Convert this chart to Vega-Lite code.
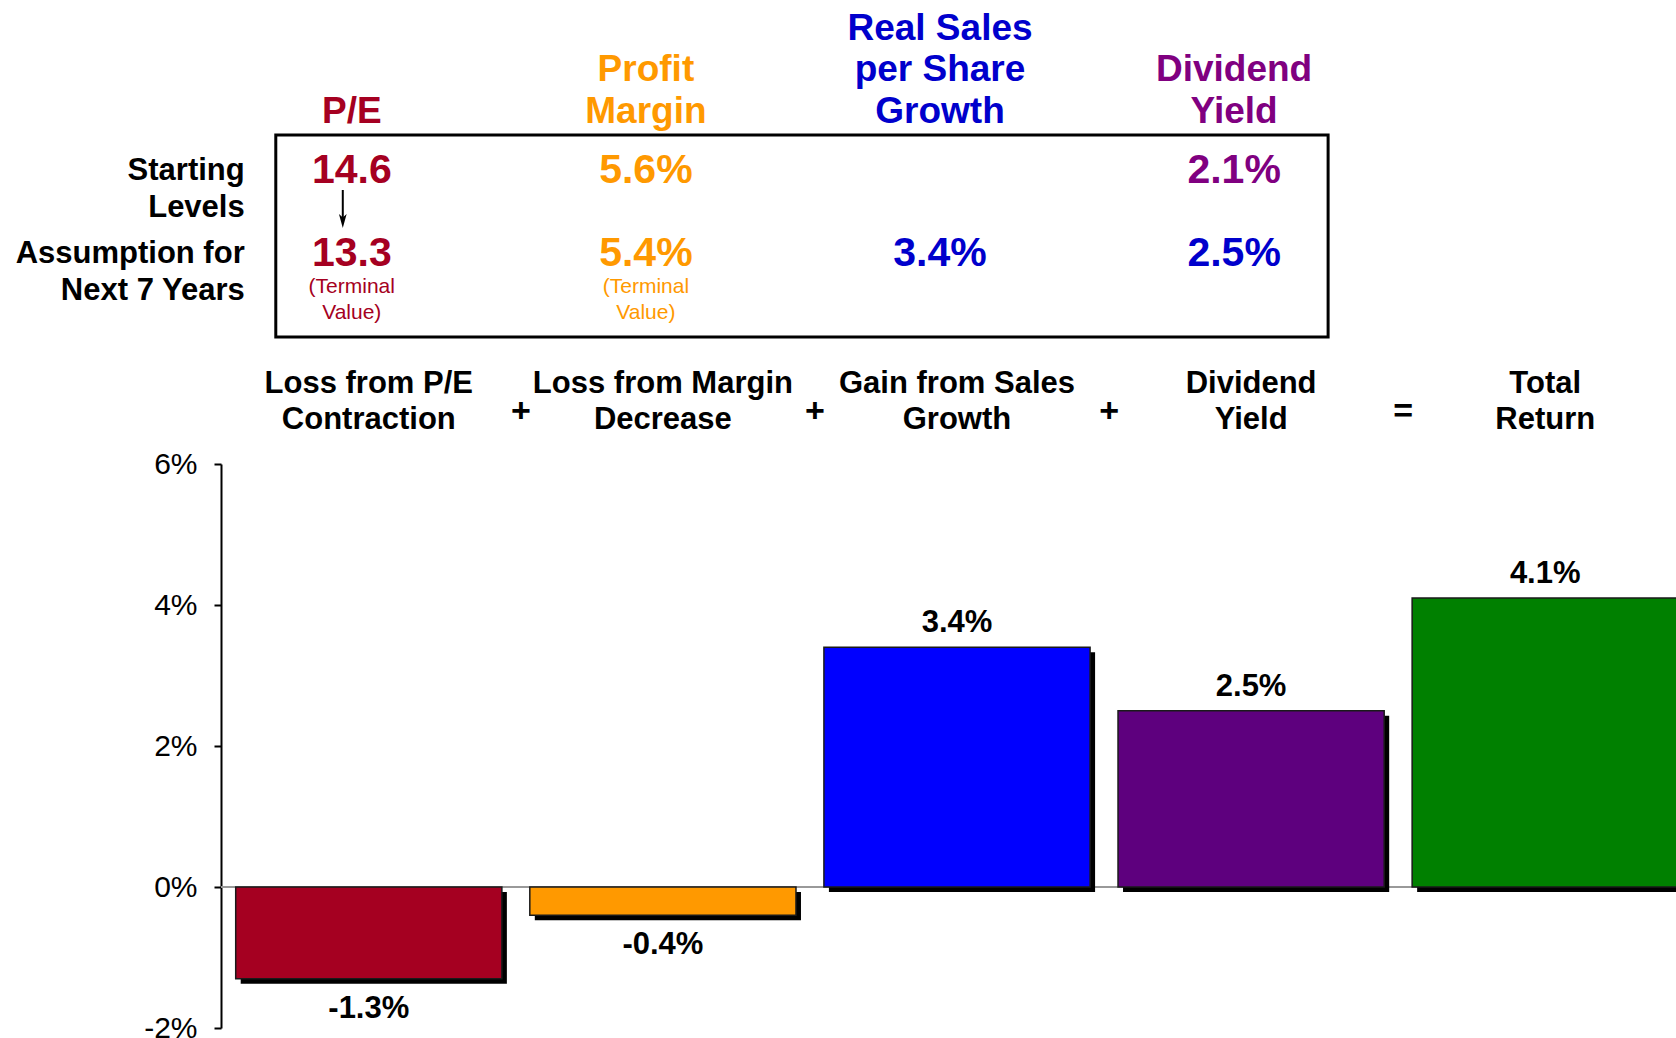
{
  "$schema": "https://vega.github.io/schema/vega-lite/v6.json",
  "autosize": {"type": "none"},
  "width": 1455,
  "height": 564,
  "padding": {"left": 221, "top": 464, "right": 0, "bottom": 10},
  "background": "white",
  "config": {"view": {"stroke": null}, "font": "Liberation Sans", "text": {"font": "Liberation Sans", "lineBreak": "\n"}},
  "datasets": {
    "bars": [
      {"cat": "P/E", "head": "Loss from P/E\nContraction", "value": -1.3, "lab": "-1.3%"},
      {"cat": "Profit Margin", "head": "Loss from Margin\nDecrease", "value": -0.4, "lab": "-0.4%"},
      {"cat": "Real Sales per Share Growth", "head": "Gain from Sales\nGrowth", "value": 3.4, "lab": "3.4%"},
      {"cat": "Dividend Yield", "head": "Dividend\nYield", "value": 2.5, "lab": "2.5%"},
      {"cat": "Total Return", "head": "Total\nReturn", "value": 4.1, "lab": "4.1%"}
    ],
    "cols": [
      {"cat": "P/E", "text": "P/E", "lines": 1},
      {"cat": "Profit Margin", "text": "Profit\nMargin", "lines": 2},
      {"cat": "Real Sales per Share Growth", "text": "Real Sales\nper Share\nGrowth", "lines": 3},
      {"cat": "Dividend Yield", "text": "Dividend\nYield", "lines": 2}
    ],
    "levels": [
      {"cat": "P/E", "trow": "start", "text": "14.6"},
      {"cat": "P/E", "trow": "assume", "text": "13.3"},
      {"cat": "Profit Margin", "trow": "start", "text": "5.6%"},
      {"cat": "Profit Margin", "trow": "assume", "text": "5.4%"},
      {"cat": "Real Sales per Share Growth", "trow": "assume", "text": "3.4%"},
      {"cat": "Dividend Yield", "trow": "start", "text": "2.1%"},
      {"cat": "Dividend Yield", "trow": "assume", "text": "2.5%"}
    ],
    "notes": [
      {"cat": "P/E", "trow": "assume", "text": "(Terminal\nValue)"},
      {"cat": "Profit Margin", "trow": "assume", "text": "(Terminal\nValue)"}
    ],
    "rowlabels": [
      {"trow": "start", "text": "Starting\nLevels"},
      {"trow": "assume", "text": "Assumption for\nNext 7 Years"}
    ],
    "ops": [
      {"cat": "P/E", "op": "+"},
      {"cat": "Profit Margin", "op": "+"},
      {"cat": "Real Sales per Share Growth", "op": "+"},
      {"cat": "Dividend Yield", "op": "="}
    ],
    "arrow": [{"cat": "P/E", "from": "start", "to": "assume"}],
    "box": [{"first": "P/E", "last": "Dividend Yield", "top": "start", "bottom": "assume"}]
  },
  "resolve": {"scale": {"y": "independent", "color": "independent"}},
  "layer": [
    {
      "data": {"name": "bars"},
      "layer": [
        {
          "mark": {"type": "rule", "color": "#999999", "strokeWidth": 2},
          "encoding": {
            "y": {"datum": 0, "type": "quantitative", "scale": {"domain": [-2, 6], "nice": false, "zero": false}}
          }
        },
        {
          "mark": {"type": "bar", "color": "black", "xOffset": 5, "x2Offset": 5, "yOffset": 5, "y2Offset": 5},
          "encoding": {
            "x": {"field": "cat", "type": "nominal", "scale": {"domain": ["P/E", "Profit Margin", "Real Sales per Share Growth", "Dividend Yield", "Total Return"], "range": [0, 1472], "paddingInner": 0.095, "paddingOuter": 0.05}, "axis": null},
            "y": {"field": "value", "type": "quantitative", "scale": {"domain": [-2, 6], "nice": false, "zero": false}}
          }
        },
        {
          "mark": {"type": "bar", "stroke": "#1a1a1a", "strokeWidth": 1.5},
          "encoding": {
            "x": {"field": "cat", "type": "nominal", "scale": {"domain": ["P/E", "Profit Margin", "Real Sales per Share Growth", "Dividend Yield", "Total Return"], "range": [0, 1472], "paddingInner": 0.095, "paddingOuter": 0.05}, "axis": null},
            "y": {"field": "value", "type": "quantitative", "scale": {"domain": [-2, 6], "nice": false, "zero": false},
              "axis": {"values": [-2, 0, 2, 4, 6], "labelExpr": "datum.value + '%'", "title": null, "grid": false, "domainColor": "black", "domainWidth": 2, "tickColor": "black", "tickSize": 7, "tickWidth": 2, "labelFont": "Liberation Sans", "labelFontSize": 30, "labelColor": "black", "labelPadding": 17}},
            "color": {"field": "cat", "type": "nominal", "scale": {"domain": ["P/E", "Profit Margin", "Real Sales per Share Growth", "Dividend Yield", "Total Return"], "range": ["#A50021", "#FF9900", "#0000FF", "#5E007E", "#008000"]}, "legend": null}
          }
        },
        {
          "transform": [{"filter": "datum.value >= 0"}],
          "mark": {"type": "text", "fontSize": 31, "fontWeight": "bold", "color": "black", "baseline": "alphabetic", "dy": -15},
          "encoding": {
            "x": {"field": "cat", "type": "nominal", "scale": {"domain": ["P/E", "Profit Margin", "Real Sales per Share Growth", "Dividend Yield", "Total Return"], "range": [0, 1472], "paddingInner": 0.095, "paddingOuter": 0.05}, "axis": null},
            "y": {"field": "value", "type": "quantitative", "scale": {"domain": [-2, 6], "nice": false, "zero": false}},
            "text": {"field": "lab"}
          }
        },
        {
          "transform": [{"filter": "datum.value < 0"}],
          "mark": {"type": "text", "fontSize": 31, "fontWeight": "bold", "color": "black", "baseline": "alphabetic", "dy": 39},
          "encoding": {
            "x": {"field": "cat", "type": "nominal", "scale": {"domain": ["P/E", "Profit Margin", "Real Sales per Share Growth", "Dividend Yield", "Total Return"], "range": [0, 1472], "paddingInner": 0.095, "paddingOuter": 0.05}, "axis": null},
            "y": {"field": "value", "type": "quantitative", "scale": {"domain": [-2, 6], "nice": false, "zero": false}},
            "text": {"field": "lab"}
          }
        }
      ]
    },
    {
      "layer": [
        {
          "data": {"name": "box"},
          "mark": {"type": "rect", "fill": "transparent", "stroke": "black", "strokeWidth": 3, "xOffset": -93, "x2Offset": 77, "yOffset": -34, "y2Offset": 85},
          "encoding": {
            "x": {"field": "first", "type": "nominal", "scale": {"domain": ["P/E", "Profit Margin", "Real Sales per Share Growth", "Dividend Yield", "Total Return"], "range": [0, 1472], "paddingInner": 0.095, "paddingOuter": 0.05}, "axis": null},
            "x2": {"field": "last"},
            "y": {"field": "top", "type": "nominal", "scale": {"type": "point", "domain": ["head", "start", "assume", "cathead"], "range": [-378, -129], "padding": 0}, "axis": null},
            "y2": {"field": "bottom"}
          }
        },
        {
          "data": {"name": "arrow"},
          "mark": {"type": "rule", "color": "black", "strokeWidth": 2, "xOffset": -26, "yOffset": 21, "y2Offset": -30},
          "encoding": {
            "x": {"field": "cat", "type": "nominal", "scale": {"domain": ["P/E", "Profit Margin", "Real Sales per Share Growth", "Dividend Yield", "Total Return"], "range": [0, 1472], "paddingInner": 0.095, "paddingOuter": 0.05}, "axis": null},
            "y": {"field": "from", "type": "nominal", "scale": {"type": "point", "domain": ["head", "start", "assume", "cathead"], "range": [-378, -129], "padding": 0}, "axis": null},
            "y2": {"field": "to"}
          }
        },
        {
          "data": {"name": "arrow"},
          "mark": {"type": "point", "shape": "M-0.55,-1L0,1L0.55,-1L0,-0.5Z", "size": 196, "filled": true, "color": "black", "opacity": 1, "xOffset": -26, "yOffset": -31},
          "encoding": {
            "x": {"field": "cat", "type": "nominal", "scale": {"domain": ["P/E", "Profit Margin", "Real Sales per Share Growth", "Dividend Yield", "Total Return"], "range": [0, 1472], "paddingInner": 0.095, "paddingOuter": 0.05}, "axis": null},
            "y": {"field": "to", "type": "nominal", "scale": {"type": "point", "domain": ["head", "start", "assume", "cathead"], "range": [-378, -129], "padding": 0}, "axis": null}
          }
        },
        {
          "data": {"name": "cols"},
          "mark": {"type": "text", "fontSize": 37, "fontWeight": "bold", "baseline": "middle", "lineHeight": 41.7, "dx": -17, "dy": 26},
          "encoding": {
            "x": {"field": "cat", "type": "nominal", "scale": {"domain": ["P/E", "Profit Margin", "Real Sales per Share Growth", "Dividend Yield", "Total Return"], "range": [0, 1472], "paddingInner": 0.095, "paddingOuter": 0.05}, "axis": null},
            "y": {"datum": "head", "type": "nominal", "scale": {"type": "point", "domain": ["head", "start", "assume", "cathead"], "range": [-378, -129], "padding": 0}, "axis": null},
            "yOffset": {"field": "lines", "type": "quantitative", "scale": {"domain": [1, 3], "range": [0, -83.4], "zero": false, "nice": false}},
            "text": {"field": "text"},
            "color": {"field": "cat", "type": "nominal", "scale": {"domain": ["P/E", "Profit Margin", "Real Sales per Share Growth", "Dividend Yield"], "range": ["#A50021", "#FF9900", "#0000CC", "#800080"]}, "legend": null}
          }
        },
        {
          "data": {"name": "levels"},
          "mark": {"type": "text", "fontSize": 41, "fontWeight": "bold", "baseline": "middle", "dx": -17, "dy": 2},
          "encoding": {
            "x": {"field": "cat", "type": "nominal", "scale": {"domain": ["P/E", "Profit Margin", "Real Sales per Share Growth", "Dividend Yield", "Total Return"], "range": [0, 1472], "paddingInner": 0.095, "paddingOuter": 0.05}, "axis": null},
            "y": {"field": "trow", "type": "nominal", "scale": {"type": "point", "domain": ["head", "start", "assume", "cathead"], "range": [-378, -129], "padding": 0}, "axis": null},
            "text": {"field": "text"},
            "color": {"condition": {"test": "datum.cat === 'Dividend Yield' && datum.trow === 'assume'", "value": "#0000CC"}, "field": "cat", "type": "nominal", "scale": {"domain": ["P/E", "Profit Margin", "Real Sales per Share Growth", "Dividend Yield"], "range": ["#A50021", "#FF9900", "#0000CC", "#800080"]}, "legend": null}
          }
        },
        {
          "data": {"name": "notes"},
          "mark": {"type": "text", "fontSize": 21, "baseline": "middle", "lineHeight": 26, "dx": -17, "dy": 35},
          "encoding": {
            "x": {"field": "cat", "type": "nominal", "scale": {"domain": ["P/E", "Profit Margin", "Real Sales per Share Growth", "Dividend Yield", "Total Return"], "range": [0, 1472], "paddingInner": 0.095, "paddingOuter": 0.05}, "axis": null},
            "y": {"field": "trow", "type": "nominal", "scale": {"type": "point", "domain": ["head", "start", "assume", "cathead"], "range": [-378, -129], "padding": 0}, "axis": null},
            "text": {"field": "text"},
            "color": {"field": "cat", "type": "nominal", "scale": {"domain": ["P/E", "Profit Margin", "Real Sales per Share Growth", "Dividend Yield"], "range": ["#A50021", "#FF9900", "#0000CC", "#800080"]}, "legend": null}
          }
        },
        {
          "data": {"name": "rowlabels"},
          "mark": {"type": "text", "fontSize": 31, "fontWeight": "bold", "color": "black", "align": "right", "baseline": "middle", "lineHeight": 37, "dx": 9, "dy": 2},
          "encoding": {
            "x": {"datum": "P/E", "type": "nominal", "bandPosition": 0, "scale": {"domain": ["P/E", "Profit Margin", "Real Sales per Share Growth", "Dividend Yield", "Total Return"], "range": [0, 1472], "paddingInner": 0.095, "paddingOuter": 0.05}, "axis": null},
            "y": {"field": "trow", "type": "nominal", "scale": {"type": "point", "domain": ["head", "start", "assume", "cathead"], "range": [-378, -129], "padding": 0}, "axis": null},
            "text": {"field": "text"}
          }
        },
        {
          "data": {"name": "bars"},
          "mark": {"type": "text", "fontSize": 31, "fontWeight": "bold", "color": "black", "baseline": "middle", "lineHeight": 36, "dy": 49},
          "encoding": {
            "x": {"field": "cat", "type": "nominal", "scale": {"domain": ["P/E", "Profit Margin", "Real Sales per Share Growth", "Dividend Yield", "Total Return"], "range": [0, 1472], "paddingInner": 0.095, "paddingOuter": 0.05}, "axis": null},
            "y": {"datum": "cathead", "type": "nominal", "scale": {"type": "point", "domain": ["head", "start", "assume", "cathead"], "range": [-378, -129], "padding": 0}, "axis": null},
            "text": {"field": "head"}
          }
        },
        {
          "data": {"name": "ops"},
          "mark": {"type": "text", "fontSize": 34, "fontWeight": "bold", "color": "black", "baseline": "middle", "dx": 19, "dy": 77},
          "encoding": {
            "x": {"field": "cat", "type": "nominal", "bandPosition": 1, "scale": {"domain": ["P/E", "Profit Margin", "Real Sales per Share Growth", "Dividend Yield", "Total Return"], "range": [0, 1472], "paddingInner": 0.095, "paddingOuter": 0.05}, "axis": null},
            "y": {"datum": "cathead", "type": "nominal", "scale": {"type": "point", "domain": ["head", "start", "assume", "cathead"], "range": [-378, -129], "padding": 0}, "axis": null},
            "text": {"field": "op"}
          }
        }
      ]
    }
  ]
}
